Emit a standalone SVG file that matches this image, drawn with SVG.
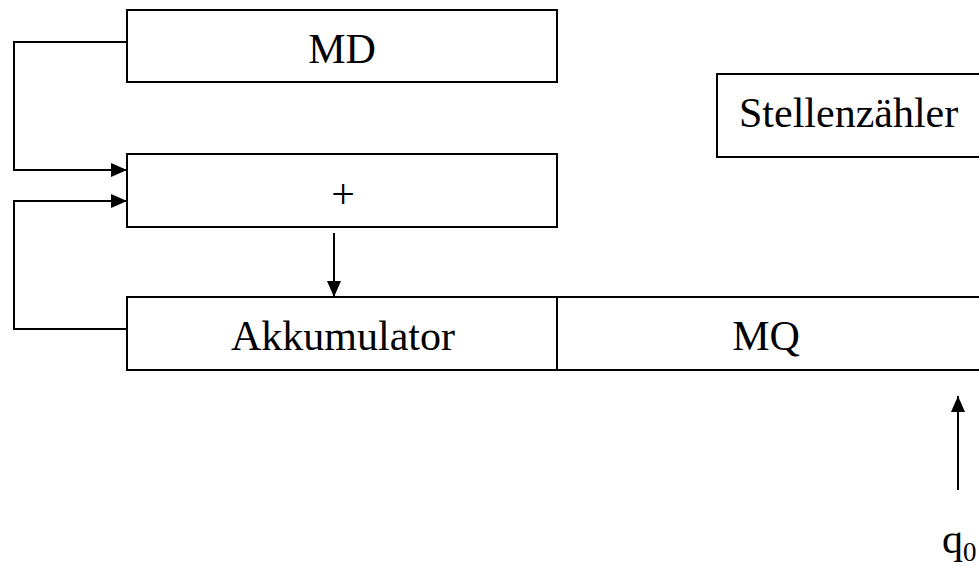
<svg xmlns="http://www.w3.org/2000/svg" width="979" height="566" viewBox="0 0 979 566">
  <style>
    .box { fill: #fff; stroke: #000; stroke-width: 2; }
    .wire { fill: none; stroke: #000; stroke-width: 2; }
    .lbl { font-family: "Liberation Serif", "Times New Roman", serif; font-size: 42px; fill: #000; }
  </style>
  <defs>
    <marker id="arrow" viewBox="0 0 16 14" refX="16" refY="7" markerWidth="16" markerHeight="14" markerUnits="userSpaceOnUse" orient="auto">
      <path d="M0,0 L16,7 L0,14 Z" fill="#000"/>
    </marker>
  </defs>
  <rect width="979" height="566" fill="#fff"/>

  <g id="md">
    <rect class="box" x="127" y="10" width="430" height="72"/>
    <text class="lbl" x="342" y="63" text-anchor="middle">MD</text>
  </g>

  <g id="adder">
    <rect class="box" x="127" y="154" width="430" height="73"/>
    <text class="lbl" x="343" y="208" text-anchor="middle">+</text>
  </g>

  <g id="stellenzaehler">
    <rect class="box" x="717" y="74" width="280" height="83"/>
    <text class="lbl" x="739" y="127">Stellenzähler</text>
  </g>

  <g id="akkumulator">
    <rect class="box" x="127" y="297" width="430" height="73"/>
    <text class="lbl" x="231" y="350">Akkumulator</text>
  </g>

  <g id="mq">
    <rect class="box" x="557" y="297" width="440" height="73"/>
    <text class="lbl" x="766" y="350" text-anchor="middle">MQ</text>
  </g>

  <g id="q0">
    <text class="lbl" x="942" y="553">q<tspan font-size="27px" dy="8">0</tspan></text>
  </g>

  <g id="connectors">
    <polyline class="wire" points="127,42 14,42 14,170 127,170" marker-end="url(#arrow)"/>
    <polyline class="wire" points="127,329 14,329 14,201 127,201" marker-end="url(#arrow)"/>
    <line class="wire" x1="334" y1="233" x2="334" y2="297" marker-end="url(#arrow)"/>
    <line class="wire" x1="958" y1="490" x2="958" y2="396" marker-end="url(#arrow)"/>
  </g>
</svg>
